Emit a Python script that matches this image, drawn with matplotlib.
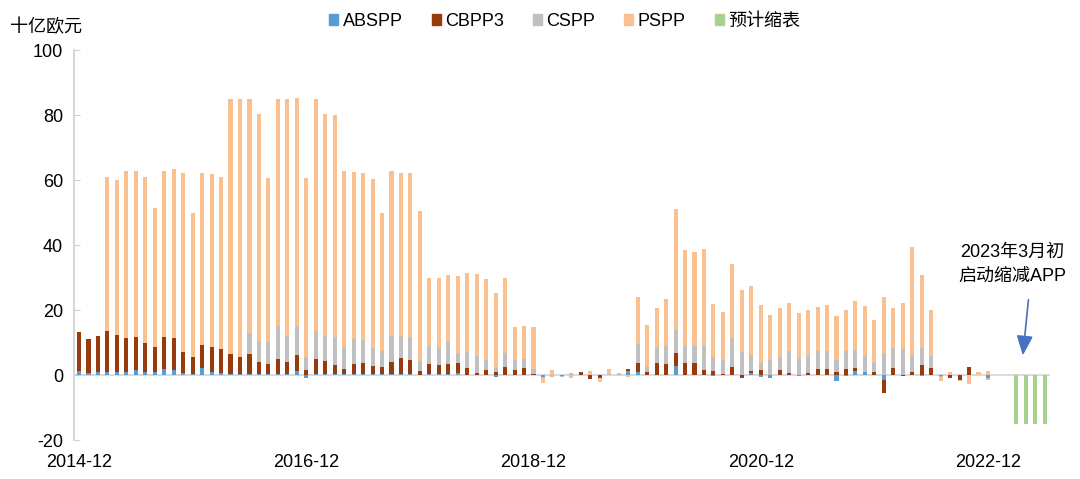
import matplotlib
matplotlib.use("Agg")
import matplotlib.pyplot as plt
from matplotlib.patches import Patch
import numpy as np

plt.rcParams['font.family'] = ['Liberation Sans Narrow', 'Liberation Sans', 'Noto Sans CJK SC', 'DejaVu Sans']
plt.rcParams['axes.unicode_minus'] = False

# Monthly data, 2014-12 .. 2023-06 (103 months), EUR bn
absp = [1.2, 0.6, 0.9, 1.0, 1.0, 1.0, 1.4, 1.0, 1.0, 1.7, 1.4, 0.5, 0.3, 2.3, 0.9, 0.5,
        0.3, 0.3, 0.3, 0.3, 0.3, 0.3, 0.3, 1.3, -0.8, 0.3, 0.3, 0.3, 0.2, 0.2, 0.2, 0.2,
        0.2, 0.2, 0.2, 0.2, 0.1, 0.2, 0.2, 0.2, 0.6, 0.1, 0.1, 0.1, -0.5, 0.1, 0.1, 0.1,
        0.0, -0.5, 0.0, -0.2, 0.0, 0.0, 0.0, 0.0, 0.0, 0.0, 1.2, 1.0, 0.0, 0.0, 0.0, 2.8,
        0.0, 0.0, 0.0, -0.3, 0.0, 0.0, 0.0, 0.5, -0.5, -0.8, 0.0, 0.0, -0.3, 0.0, 0.0, 0.0,
        -1.8, -0.3, 1.3, 1.0, 0.0, -1.5, 0.0, 0.0, 0.0, -0.3, 0.0, -0.3, 0.0, 0.0, 0.0, 0.0,
        -0.8, 0.0, 0.0, 0.0, 0.0, 0.0, 0.0]
cbpp3 = [11.9, 10.4, 11.0, 12.5, 11.4, 10.3, 10.2, 8.7, 7.6, 10.0, 9.9, 6.7, 5.3, 6.9, 7.6, 7.5,
         6.2, 5.1, 6.2, 3.6, 3.0, 4.7, 3.6, 4.8, 1.6, 4.7, 4.0, 2.7, 1.5, 3.2, 3.4, 2.6,
         2.2, 3.8, 4.9, 4.3, 1.1, 3.3, 2.8, 3.3, 3.0, 2.1, 0.6, 1.5, 1.0, 2.4, 1.4, 2.0,
         0.3, 0.0, 0.0, 0.0, 0.0, 0.8, -1.2, -1.0, 0.0, 0.0, 0.5, 2.6, 1.0, 3.6, 3.4, 3.9,
         3.6, 3.6, 1.5, 1.2, 0.3, 2.6, -1.0, 0.8, 1.5, 0.0, 1.5, 0.7, 0.0, 0.7, 1.8, 1.8,
         0.8, 1.8, 1.0, 0.0, 0.8, -3.9, 2.1, -0.4, 0.8, 3.1, 2.1, 0.0, -1.0, -1.5, 2.4, 0.0,
         0.0, 0.0, 0.0, 0.0, 0.0, 0.0, 0.0]
cspp = [0, 0, 0, 0, 0, 0, 0, 0, 0, 0, 0, 0, 0, 0, 0, 0,
        0, 0, 6.3, 6.7, 6.9, 10.1, 8.2, 9.0, 3.8, 8.6, 7.8, 8.3, 6.8, 7.6, 7.2, 5.6,
        4.9, 8.1, 7.0, 7.3, 3.0, 5.5, 5.4, 6.8, 3.1, 5.0, 5.1, 3.0, 1.1, 4.2, 3.1, 2.7,
        1.7, -0.5, -0.5, -0.4, 0.5, 0.2, 0.0, 0.0, 0.3, 0.3, 0.0, 5.8, 1.5, 4.6, 5.6, 7.0,
        5.4, 5.4, 7.5, 4.2, 4.3, 8.9, 7.2, 4.8, 2.3, 4.6, 4.1, 6.7, 4.8, 5.1, 5.5, 5.5,
        3.8, 5.5, 5.5, 4.8, 3.0, 6.9, 6.2, 8.0, 5.3, 5.1, 3.6, -0.3, 0.0, 0.0, 0.0, 0.0,
        -0.6, 0.0, 0.0, 0.0, 0.0, 0.0, 0.0]
pspp = [0, 0, 0, 47.3, 47.6, 51.6, 51.3, 51.3, 42.8, 51.0, 52.1, 55.1, 44.3, 52.9, 53.2, 53.0,
        78.3, 79.4, 72.0, 69.7, 50.3, 69.7, 72.9, 70.0, 55.1, 71.2, 68.2, 68.7, 54.3, 51.4, 51.4, 51.8,
        42.6, 50.7, 50.2, 50.5, 46.3, 21.0, 21.6, 20.4, 23.7, 24.1, 25.2, 24.9, 23.0, 23.1, 10.2, 10.4,
        12.8, -1.6, 1.5, 0.0, -0.8, 0.0, 1.3, -1.0, 1.5, 0.4, -0.5, 14.5, 12.8, 12.4, 14.4, 37.3,
        29.6, 28.9, 29.9, 16.4, 14.8, 22.8, 19.0, 21.4, 17.6, 13.8, 15.1, 14.9, 14.2, 14.2, 13.5, 14.1,
        13.7, 12.8, 15.1, 15.3, 13.1, 17.1, 12.2, 14.3, 33.3, 22.7, 14.2, -1.2, 0.8, -0.2, -2.8, 1.0,
        1.3, 0.0, 0.0, 0.0, 0.0, 0.0, 0.0]
qt_plan = [0.0] * 99 + [-15, -15, -15, -15]

tick_pos = [0, 24, 48, 72, 96]
tick_labels = ['2014-12', '2016-12', '2018-12', '2020-12', '2022-12']

series = [('ABSPP', absp, '#5B9BD5'),
          ('CBPP3', cbpp3, '#973A0C'),
          ('CSPP', cspp, '#C0C0C0'),
          ('PSPP', pspp, '#FAC08F'),
          ('预计缩表', qt_plan, '#A9D18E')]

fig = plt.figure(figsize=(10.8, 4.79), dpi=100)
ax = fig.add_axes([0.0688, 0.0814, 0.903, 0.8142])

x = np.arange(len(absp))
w = 0.43
pos_base = np.zeros(len(x))
neg_base = np.zeros(len(x))
for name, vals, col in series:
    v = np.array(vals, dtype=float)
    base = np.where(v >= 0, pos_base, neg_base)
    ax.bar(x, v, w, bottom=base, color=col, linewidth=0, zorder=2)
    pos_base = pos_base + np.where(v > 0, v, 0)
    neg_base = neg_base + np.where(v < 0, v, 0)

ax.axhline(0, color='#D0D5DC', lw=1.2, zorder=1)
ax.set_xlim(-0.5, 102.5)
ax.set_ylim(-20, 100)
ax.set_yticks(range(-20, 101, 20))
ax.tick_params(axis='y', direction='in', length=4, color='#D0D0D0', labelsize=13, pad=8, labelcolor='#000000')
ax.set_xticks(tick_pos)
ax.set_xticklabels(tick_labels)
ax.tick_params(axis='x', length=0, labelsize=13, pad=10)
for s in ['top', 'right', 'bottom']:
    ax.spines[s].set_visible(False)
ax.spines['left'].set_color('#D0D0D0')
ax.spines['left'].set_linewidth(1.2)

fig.text(0.009, 0.943, '十亿欧元', fontsize=13, ha='left', va='center')

handles = [Patch(color=c, label=n) for n, _, c in series]
fig.legend(handles=handles, loc='center', bbox_to_anchor=(0.523, 0.955), ncol=5,
           frameon=False, fontsize=13, handlelength=0.5, handleheight=0.5,
           handletextpad=0.25, columnspacing=1.6)

ax.text(98.6, 34.0, '2023年3月初\n启动缩减APP', ha='center', va='center', fontsize=13, linespacing=1.5)
ax.annotate('', xy=(99.65, 5.2), xytext=(100.3, 24.0),
            arrowprops=dict(arrowstyle='-|>,head_length=1.2,head_width=0.5', color='#4472C4', lw=1.2))

fig.savefig('out.png', dpi=100)
